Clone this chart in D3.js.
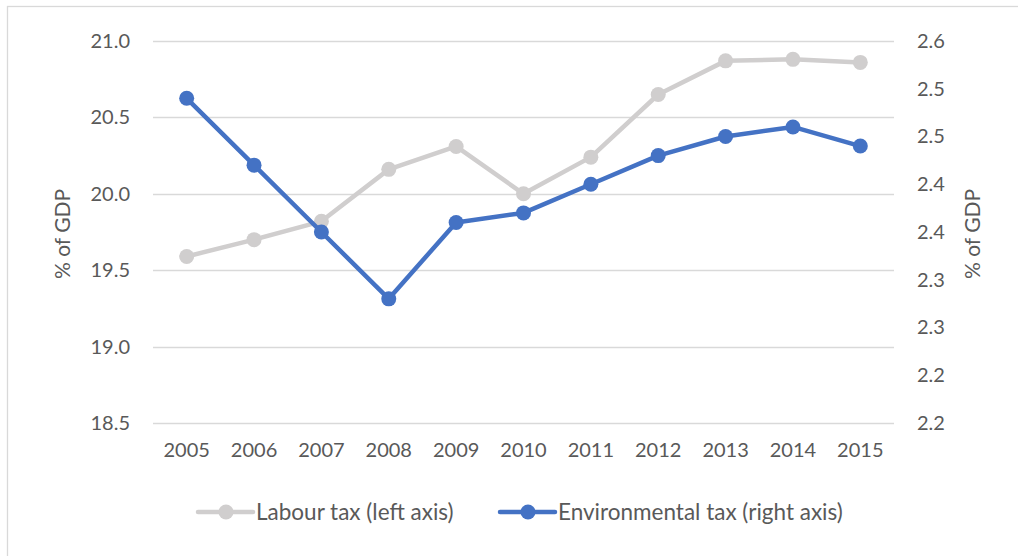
<!DOCTYPE html>
<html>
<head>
<meta charset="utf-8">
<script src="https://cdn.jsdelivr.net/npm/d3@7"></script>
<style>
  html, body { margin: 0; padding: 0; background: #fff; }
  svg { display: block; }
  text { font-family: Lato, "Liberation Sans", sans-serif; fill: #595959; }
</style>
</head>
<body>
<svg id="chart" width="1018" height="556"></svg>
<script>
// Tax revenue as a share of GDP, 2005–2015
const years = ["2005","2006","2007","2008","2009","2010","2011","2012","2013","2014","2015"];
const labourTax = [19.59, 19.70, 19.82, 20.16, 20.31, 20.00, 20.24, 20.65, 20.87, 20.88, 20.86];
const envTax    = [2.54, 2.47, 2.40, 2.33, 2.41, 2.42, 2.45, 2.48, 2.50, 2.51, 2.49];

const leftTicks  = [18.5, 19.0, 19.5, 20.0, 20.5, 21.0];
const rightTicks = [2.20, 2.25, 2.30, 2.35, 2.40, 2.45, 2.50, 2.55, 2.60];
const rightTickLabels = ["2.2","2.2","2.3","2.3","2.4","2.4","2.5","2.5","2.6"];

const seriesNames = ["Labour tax (left axis)", "Environmental tax (right axis)"];
const colors = { labour: "#d0cece", env: "#4472c4" };

const svg = d3.select("#chart");
const plot = { left: 153, right: 894, top: 41, bottom: 423 };

// chart frame
svg.append("rect")
  .attr("x", 7.5).attr("y", 6.5)
  .attr("width", 1030).attr("height", 600)
  .attr("fill", "none").attr("stroke", "#d9d9d9").attr("stroke-width", 1.3);

const x = d3.scaleBand().domain(years).range([plot.left, plot.right]);
const yL = d3.scaleLinear().domain([18.5, 21.0]).range([plot.bottom, plot.top]);
const yR = d3.scaleLinear().domain([2.2, 2.6]).range([plot.bottom, plot.top]);
const cx = d => x(d) + x.bandwidth() / 2;

// gridlines
svg.append("g").selectAll("line").data(leftTicks).join("line")
  .attr("x1", plot.left).attr("x2", plot.right)
  .attr("y1", d => Math.round(yL(d)) + 0.5).attr("y2", d => Math.round(yL(d)) + 0.5)
  .attr("stroke", "#d9d9d9").attr("stroke-width", 1.3);

function styleTicks(g) {
  g.select(".domain").remove();
  g.selectAll("text").attr("font-size", 20).attr("fill", "#595959")
    .style("font-family", "Lato, 'Liberation Sans', sans-serif");
}

// left axis
const leftAxis = d3.axisLeft(yL).tickValues(leftTicks).tickFormat(d3.format(".1f")).tickSize(0).tickPadding(0);
svg.append("g").attr("transform", "translate(130,0)").call(leftAxis).call(styleTicks);

// right axis
const rightAxis = d3.axisRight(yR).tickValues(rightTicks)
  .tickFormat((d, i) => rightTickLabels[i]).tickSize(0).tickPadding(0);
svg.append("g").attr("transform", "translate(917,0)").call(rightAxis).call(styleTicks);

// bottom axis
const bottomAxis = d3.axisBottom(x).tickSize(0).tickPadding(0);
svg.append("g").attr("transform", "translate(0,443)").call(bottomAxis).call(styleTicks);

// axis titles
svg.append("text").attr("transform", "translate(70,234) rotate(-90)")
  .attr("text-anchor", "middle").attr("font-size", 21).text("% of GDP");
svg.append("text").attr("transform", "translate(980,234) rotate(-90)")
  .attr("text-anchor", "middle").attr("font-size", 21).text("% of GDP");

// series
function drawSeries(values, yScale, color) {
  const line = d3.line().x((d, i) => cx(years[i])).y(d => yScale(d));
  svg.append("path").datum(values)
    .attr("d", line).attr("fill", "none")
    .attr("stroke", color).attr("stroke-width", 4.5)
    .attr("stroke-linejoin", "round").attr("stroke-linecap", "round");
  svg.append("g").selectAll("circle").data(values).join("circle")
    .attr("cx", (d, i) => cx(years[i])).attr("cy", d => yScale(d))
    .attr("r", 7.5).attr("fill", color);
}
drawSeries(labourTax, yL, colors.labour);
drawSeries(envTax, yR, colors.env);

// legend
const legendItems = [
  { name: seriesNames[0], color: colors.labour, x0: 198 },
  { name: seriesNames[1], color: colors.env, x0: 500 }
];
const lg = svg.append("g");
legendItems.forEach(it => {
  const g = lg.append("g").attr("transform", `translate(${it.x0},512)`);
  g.append("line").attr("x1", 0).attr("x2", 55).attr("y1", 0).attr("y2", 0)
    .attr("stroke", it.color).attr("stroke-width", 4.5).attr("stroke-linecap", "round");
  g.append("circle").attr("cx", 28).attr("cy", 0).attr("r", 7.5).attr("fill", it.color);
  g.append("text").attr("x", 58).attr("y", 0).attr("dy", "0.35em")
    .attr("font-size", 22.5).text(it.name);
});
</script>
</body>
</html>
